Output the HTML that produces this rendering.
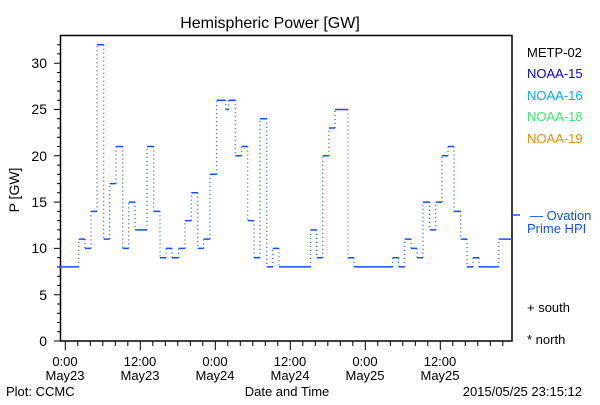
<!DOCTYPE html>
<html><head><meta charset="utf-8"><style>
body{margin:0;background:#fff}
svg text{font-family:"Liberation Sans","DejaVu Sans",sans-serif}
</style></head><body>
<svg width="600" height="400" xmlns="http://www.w3.org/2000/svg">
<rect width="600" height="400" fill="#fff"/>
<text x="270" y="28" font-size="16" text-anchor="middle">Hemispheric Power [GW]</text>
<rect x="60.5" y="35.5" width="451.5" height="305.5" fill="none" stroke="#000" stroke-width="1.5"/>
<path stroke="#000" stroke-width="1" fill="none" d="M54 341H60M57 331.7H60M57 322.5H60M57 313.2H60M57 304H60M54 294.7H60M57 285.4H60M57 276.2H60M57 266.9H60M57 257.7H60M54 248.4H60M57 239.1H60M57 229.9H60M57 220.6H60M57 211.4H60M54 202.1H60M57 192.8H60M57 183.6H60M57 174.3H60M57 165.1H60M54 155.8H60M57 146.5H60M57 137.3H60M57 128H60M57 118.8H60M54 109.5H60M57 100.2H60M57 91H60M57 81.7H60M57 72.5H60M54 63.2H60M57 53.9H60M57 44.7H60"/>
<path stroke="#000" stroke-width="1" fill="none" d="M65.3 341V350M77.8 341V346M90.3 341V346M102.8 341V346M115.3 341V346M127.8 341V346M140.3 341V350M152.8 341V346M165.3 341V346M177.8 341V346M190.3 341V346M202.8 341V346M215.3 341V350M227.8 341V346M240.3 341V346M252.8 341V346M265.3 341V346M277.8 341V346M290.3 341V350M302.8 341V346M315.3 341V346M327.8 341V346M340.3 341V346M352.8 341V346M365.3 341V350M377.8 341V346M390.3 341V346M402.8 341V346M415.3 341V346M427.8 341V346M440.3 341V350M452.8 341V346M465.3 341V346M477.8 341V346M490.3 341V346M502.8 341V346"/>
<g font-size="14" text-anchor="end" fill="#000">
<text x="47" y="346">0</text><text x="47" y="300">5</text><text x="47" y="253">10</text>
<text x="47" y="207">15</text><text x="47" y="161">20</text><text x="47" y="114">25</text><text x="47" y="68">30</text>
</g>
<text transform="translate(19,190) rotate(-90)" font-size="14" text-anchor="middle">P [GW]</text>
<g font-size="13" text-anchor="middle">
<text x="65" y="366">0:00</text><text x="65" y="380">May23</text>
<text x="140" y="366">12:00</text><text x="140" y="380">May23</text>
<text x="215" y="366">0:00</text><text x="215" y="380">May24</text>
<text x="290" y="366">12:00</text><text x="290" y="380">May24</text>
<text x="365" y="366">0:00</text><text x="365" y="380">May25</text>
<text x="440" y="366">12:00</text><text x="440" y="380">May25</text>
</g>
<text x="6" y="396" font-size="13">Plot: CCMC</text>
<text x="287" y="396" font-size="13" text-anchor="middle">Date and Time</text>
<text x="582" y="396" font-size="13" text-anchor="end">2015/05/25 23:15:12</text>
<g font-size="13">
<text x="527" y="57" fill="#000">METP-02</text>
<text x="527" y="78" fill="#0000ee">NOAA-15</text>
<text x="527" y="100" fill="#00aaff">NOAA-16</text>
<text x="527" y="121" fill="#33ee66">NOAA-18</text>
<text x="527" y="143" fill="#ff8800">NOAA-19</text>
<text x="530" y="220" fill="#1050ff">— Ovation</text>
<text x="527" y="233" fill="#1050ff">Prime HPI</text>
<text x="527" y="312" fill="#000">+ south</text>
<text x="527" y="344" fill="#000">* north</text>
</g>
<line x1="512" y1="215" x2="520" y2="215" stroke="#1050ff" stroke-width="1.5"/>
<path stroke="#1050ff" stroke-width="1.5" fill="none" d="M60 266.9H78.7M78.7 239.1H85M85 248.4H91M91 211.4H97M97 44.7H103.7M103.7 239.1H109.7M109.7 183.6H116M116 146.5H122.7M122.7 248.4H128.7M128.7 202.1H135M135 229.9H147M147 146.5H153.7M153.7 211.4H160M160 257.7H166M166 248.4H172M172 257.7H178.7M178.7 248.4H185M185 220.6H191.3M191.3 192.8H197.7M197.7 248.4H203.7M203.7 239.1H210M210 174.3H216.7M216.7 100.2H225.7M225.7 109.5H228.7M228.7 100.2H235.3M235.3 155.8H241.7M241.7 146.5H247.7M247.7 220.6H254M254 257.7H260M260 118.8H266.7M266.7 266.9H272.7M272.7 248.4H279M279 266.9H310.7M310.7 229.9H316.7M316.7 257.7H322.7M322.7 155.8H329M329 128H335M335 109.5H348M348 257.7H354M354 266.9H392.7M392.7 257.7H398.7M398.7 266.9H404.7M404.7 239.1H411M411 248.4H417M417 257.7H423M423 202.1H429.7M429.7 229.9H435.7M435.7 202.1H442M442 155.8H448M448 146.5H454M454 211.4H460.7M460.7 239.1H467M467 266.9H473M473 257.7H479M479 266.9H498.7M498.7 239.1H512"/>
<path stroke="#1050ff" stroke-width="1.2" stroke-dasharray="1,3" fill="none" d="M78.7 266.9V239.1M85 239.1V248.4M91 248.4V211.4M97 211.4V44.7M103.7 44.7V239.1M109.7 239.1V183.6M116 183.6V146.5M122.7 146.5V248.4M128.7 248.4V202.1M135 202.1V229.9M147 229.9V146.5M153.7 146.5V211.4M160 211.4V257.7M166 257.7V248.4M172 248.4V257.7M178.7 257.7V248.4M185 248.4V220.6M191.3 220.6V192.8M197.7 192.8V248.4M203.7 248.4V239.1M210 239.1V174.3M216.7 174.3V100.2M225.7 100.2V109.5M228.7 109.5V100.2M235.3 100.2V155.8M241.7 155.8V146.5M247.7 146.5V220.6M254 220.6V257.7M260 257.7V118.8M266.7 118.8V266.9M272.7 266.9V248.4M279 248.4V266.9M310.7 266.9V229.9M316.7 229.9V257.7M322.7 257.7V155.8M329 155.8V128M335 128V109.5M348 109.5V257.7M354 257.7V266.9M392.7 266.9V257.7M398.7 257.7V266.9M404.7 266.9V239.1M411 239.1V248.4M417 248.4V257.7M423 257.7V202.1M429.7 202.1V229.9M435.7 229.9V202.1M442 202.1V155.8M448 155.8V146.5M454 146.5V211.4M460.7 211.4V239.1M467 239.1V266.9M473 266.9V257.7M479 257.7V266.9M498.7 266.9V239.1"/>
</svg>
</body></html>
